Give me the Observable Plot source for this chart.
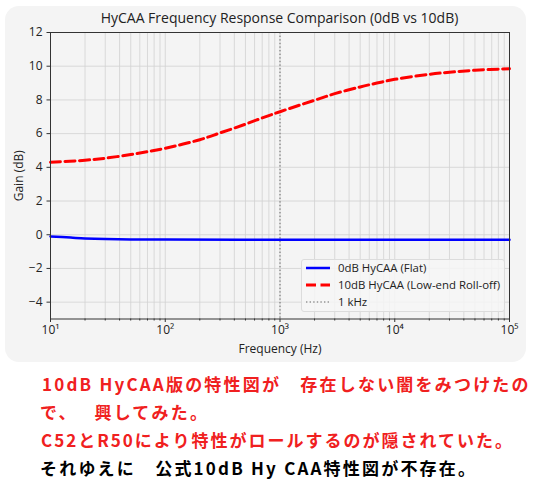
<!DOCTYPE html>
<html>
<head>
<meta charset="utf-8">
<script src="https://cdn.jsdelivr.net/npm/d3@7"></script>
<script src="https://cdn.jsdelivr.net/npm/@observablehq/plot@0.6"></script>
<style>
  html, body { margin: 0; padding: 0; background: #ffffff; }
  #root { position: relative; width: 546px; height: 493px; overflow: hidden; }
  #card { position: absolute; left: 5px; top: 6px; width: 521px; height: 356px; background: #f4f4f4; border-radius: 14px; }
  #chart { position: absolute; left: 0; top: 0; }
  #title { position: absolute; left: 50px; width: 459px; top: 8px; text-align: center; font-family: "Open Sans", sans-serif; font-size: 14px; color: #222; white-space: nowrap; }
  #legend { position: absolute; left: 301px; top: 259px; width: 202px; height: 51px; border: 1px solid #dcdcdc; border-radius: 3px; background: rgba(246,246,246,0.85); font-family: "Open Sans", sans-serif; font-size: 11.4px; color: #222; }
  .item { position: absolute; left: 0; height: 16px; width: 200px; }
  .item svg { position: absolute; left: 3px; top: 0; }
  .item span { position: absolute; left: 36px; top: 0; line-height: 16px; white-space: nowrap; }
  .note { position: absolute; font-family: "Noto Sans CJK JP", sans-serif; font-weight: 700; font-size: 17px; line-height: 28px; white-space: pre; }
</style>
</head>
<body>
<div id="root">
  <div id="card"></div>
  <div id="chart"></div>
  <div id="title"></div>
  <div id="legend"></div>
  <div id="notes"></div>
</div>
<script>
// ---- data ----
const freq10dB = [10, 20, 30, 50, 70, 100, 200, 300, 500, 700, 1000, 2000, 3000, 5000, 7000, 10000, 20000, 30000, 50000, 100000];
const gain10dB = [4.3, 4.42, 4.54, 4.76, 4.93, 5.13, 5.64, 6.04, 6.56, 6.93, 7.3, 7.98, 8.37, 8.77, 9.0, 9.22, 9.52, 9.64, 9.76, 9.85];
const freq0dB = [10, 15, 20, 30, 50, 100, 1000, 10000, 100000];
const gain0dB = [-0.1, -0.17, -0.22, -0.26, -0.28, -0.29, -0.3, -0.3, -0.3];
const markerFreq = [1000];

const xMajorTicks = [10, 100, 1000, 10000, 100000];
const xTickLabels = ["10¹", "10²", "10³", "10⁴", "10⁵"];
const xMinorTicks = [20,30,40,50,60,70,80,90, 200,300,400,500,600,700,800,900, 2000,3000,4000,5000,6000,7000,8000,9000, 20000,30000,40000,50000,60000,70000,80000,90000];
const yTicks = [-4, -2, 0, 2, 4, 6, 8, 10, 12];

const titleText = "HyCAA Frequency Response Comparison (0dB vs 10dB)";
const xLabel = "Frequency (Hz)";
const yLabel = "Gain (dB)";
const legendLabels = ["0dB HyCAA (Flat)", "10dB HyCAA (Low-end Roll-off)", "1 kHz"];
const noteLines = [
  "10dB HyCAA版の特性図が　存在しない闇をみつけたの",
  "で、　 興してみた。",
  "C52とR50により特性がロールするのが隠されていた。",
  "それゆえに　公式10dB Hy CAA特性図が不存在。"
];
const noteColors = ["#f02020", "#f02020", "#f02020", "#000000"];

// ---- build ----
const series10 = freq10dB.map((f, i) => ({f, g: gain10dB[i]}));
const series0 = freq0dB.map((f, i) => ({f, g: gain0dB[i]}));
const fmtY = d => d < 0 ? "\u2212" + (-d) : String(d);
const gridStyle = {stroke: "#d2d2d2", strokeOpacity: 1, strokeWidth: 0.8};

const chart = Plot.plot({
  width: 546,
  height: 362,
  marginLeft: 50,
  marginRight: 37,
  marginTop: 32,
  marginBottom: 43.5,
  style: {background: "transparent", fontFamily: "Open Sans, sans-serif", fontSize: "12px", color: "#222", overflow: "visible"},
  x: {type: "log", domain: [10, 100000]},
  y: {domain: [-5, 12]},
  marks: [
    Plot.gridX(xMinorTicks, gridStyle),
    Plot.gridX(xMajorTicks, gridStyle),
    Plot.gridY(yTicks, gridStyle),
    Plot.ruleX(markerFreq, {stroke: "#666", strokeWidth: 1, strokeDasharray: "1.4,2.2"}),
    Plot.line(series0, {x: "f", y: "g", stroke: "#0000ff", strokeWidth: 2.5, curve: "catmull-rom"}),
    Plot.line(series10, {x: "f", y: "g", stroke: "#ff0000", strokeWidth: 3, strokeDasharray: "10,4.5", curve: "catmull-rom"}),
    Plot.frame({stroke: "#333", strokeWidth: 1}),
    Plot.axisX(xMinorTicks, {tickSize: 2, tickFormat: () => "", label: null, stroke: "#333"}),
    Plot.axisX(xMajorTicks, {tickSize: 3.5, tickPadding: 3, stroke: "#333",
      tickFormat: d => xTickLabels[xMajorTicks.indexOf(d)],
      label: xLabel, labelAnchor: "center", labelArrow: "none", labelOffset: 34}),
    Plot.axisY(yTicks, {tickSize: 3.5, tickPadding: 4.5, stroke: "#333", tickFormat: fmtY,
      label: yLabel, labelAnchor: "center", labelArrow: "none", labelOffset: 36})
  ]
});
document.getElementById("chart").appendChild(chart);

document.getElementById("title").textContent = titleText;

// legend
const legend = document.getElementById("legend");
const samples = [
  {stroke: "#0000ff", width: 2.5, dash: null},
  {stroke: "#ff0000", width: 3, dash: "10,4.5"},
  {stroke: "#666", width: 1, dash: "1.4,2.2"}
];
const rowTops = [0, 17, 34];
legendLabels.forEach((lab, i) => {
  const row = document.createElement("div");
  row.className = "item";
  row.style.top = rowTops[i] + "px";
  const s = samples[i];
  row.innerHTML = `<svg width="26" height="16"><line x1="1" x2="25" y1="8" y2="8" stroke="${s.stroke}" stroke-width="${s.width}" ${s.dash ? `stroke-dasharray="${s.dash}"` : ""}/></svg><span></span>`;
  row.querySelector("span").textContent = lab;
  legend.appendChild(row);
});

// notes
const notes = document.getElementById("notes");
const noteLeft = [42, 40, 41, 40];
const noteTop = [370, 398, 426, 454];
const noteSpacing = [2.2, 2.2, 2.0, 2.2];
noteLines.forEach((t, i) => {
  const d = document.createElement("div");
  d.className = "note";
  d.style.left = noteLeft[i] + "px";
  d.style.top = noteTop[i] + "px";
  d.style.color = noteColors[i];
  d.style.letterSpacing = noteSpacing[i] + "px";
  d.textContent = t;
  notes.appendChild(d);
});
</script>
</body>
</html>
